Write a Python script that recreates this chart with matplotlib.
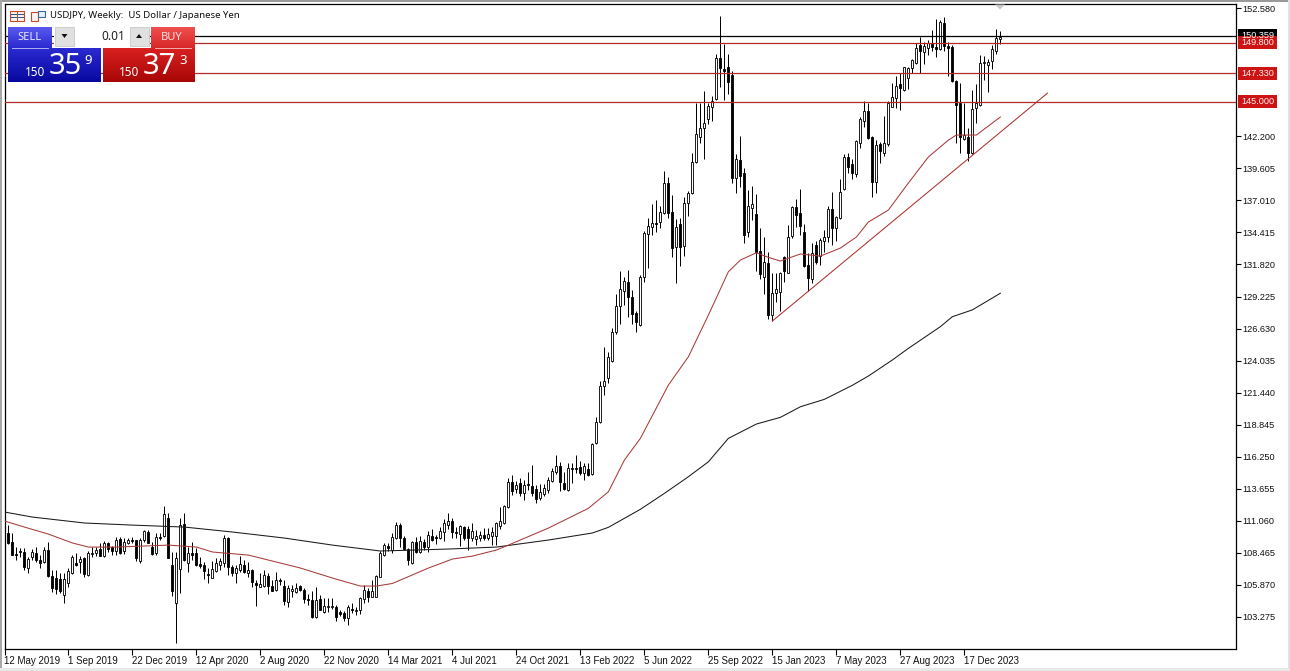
import numpy as np
import pandas as pd
import matplotlib
matplotlib.use("Agg")
import matplotlib.pyplot as plt
from matplotlib.colors import LinearSegmentedColormap
from matplotlib.patches import Rectangle, Polygon

plt.rcParams['font.family'] = ['Noto Sans', 'DejaVu Sans']
AXIS_FONT = ['Liberation Sans', 'DejaVu Sans']

opens = [
 110.09,110.04,109.31,108.37,108.61,108.50,107.26,108.15,108.47,107.88,
 107.69,108.69,106.58,106.40,106.34,105.02,106.04,106.80,107.61,107.69,
 108.02,106.67,108.39,108.42,108.77,108.23,109.28,108.91,108.64,109.55,
 108.64,109.28,109.50,109.50,107.83,109.50,110.18,108.96,108.42,109.77,
 109.85,111.26,107.47,104.42,107.12,110.77,107.66,108.42,108.42,107.56,
 107.47,106.75,106.45,107.02,107.47,107.66,109.63,107.29,106.80,107.07,
 107.47,106.80,107.07,105.99,105.72,105.77,106.58,105.80,105.45,106.26,
 105.77,104.50,105.34,105.26,105.77,105.45,104.72,104.59,103.29,104.72,
 103.69,104.05,104.05,104.10,103.64,103.56,103.16,103.88,103.75,103.78,
 104.72,105.40,104.91,104.91,106.53,108.27,108.98,108.68,109.68,110.70,
 109.63,108.76,107.60,109.36,108.55,109.30,108.89,109.81,109.71,109.63,
 110.17,110.70,111.03,110.11,109.98,110.52,110.35,109.63,109.57,109.63,
 109.90,109.68,109.84,109.81,110.62,110.84,112.16,114.18,113.61,114.10,
 113.34,114.05,113.88,113.61,112.88,113.23,113.56,114.31,114.99,115.53,
 114.10,113.56,115.31,115.31,115.39,114.96,115.23,114.85,117.34,119.04,
 122.00,122.60,124.03,126.33,128.49,129.70,130.43,129.22,127.87,126.92,
 130.84,134.27,134.89,135.16,135.24,135.97,138.45,136.10,133.27,135.10,
 133.35,136.83,137.58,140.10,142.13,142.85,143.58,144.56,145.20,148.52,
 147.63,147.79,147.17,138.80,140.29,139.20,134.48,136.42,135.88,132.91,
 130.78,131.91,127.73,129.48,129.62,132.45,131.16,134.13,136.45,135.96,
 134.48,131.78,130.62,133.40,132.51,133.75,134.07,136.29,134.75,135.56,
 137.91,140.50,139.96,139.15,141.64,143.45,144.26,142.12,138.53,141.58,
 140.83,141.55,144.61,145.28,146.44,145.96,146.90,147.71,148.12,149.60,
 149.06,149.33,149.79,149.41,149.25,151.41,149.52,149.41,146.69,144.93,
 141.96,142.18,140.83,144.47,144.74,148.12,147.98,148.33,149.14,150.06]

highs = [
 110.58,110.72,110.04,108.96,108.83,108.83,108.15,108.74,108.96,108.29,
 108.96,109.37,107.07,107.07,106.80,106.80,107.21,108.29,108.47,108.20,
 108.15,108.61,108.96,108.96,109.23,109.45,109.37,109.01,109.72,109.77,
 109.63,109.63,109.72,109.50,109.63,110.31,110.31,109.37,110.04,110.09,
 112.25,111.71,108.55,108.55,111.26,111.71,108.96,109.37,108.83,108.15,
 107.75,107.21,107.83,108.02,108.02,109.90,109.77,107.47,107.47,108.20,
 107.88,107.74,107.12,106.26,106.80,107.07,106.80,106.26,106.93,106.40,
 106.26,105.86,105.86,106.04,105.86,105.58,105.13,105.32,105.72,105.05,
 104.78,104.78,104.78,104.24,103.83,103.70,104.24,104.37,104.10,104.91,
 105.86,105.58,106.26,106.66,108.61,109.27,109.22,110.03,110.97,110.84,
 109.81,108.81,109.44,109.76,109.81,109.54,110.25,110.35,109.90,110.57,
 111.16,111.65,111.30,110.57,110.70,110.62,110.62,110.89,110.30,110.25,
 110.43,110.43,110.57,110.97,112.14,112.33,114.50,114.77,114.24,114.50,
 114.37,115.04,115.58,113.96,114.04,114.04,114.56,115.31,116.40,115.85,
 115.04,115.72,115.72,116.40,115.90,115.72,115.77,117.39,119.44,122.41,
 125.11,124.71,126.65,129.41,131.30,130.78,131.38,129.76,128.09,130.97,
 134.57,135.56,136.70,137.05,136.56,139.40,138.89,137.45,135.48,135.56,
 137.27,137.78,140.83,144.93,144.93,145.88,144.93,145.47,148.87,151.98,
 149.69,148.85,147.52,140.77,142.23,139.61,137.85,138.18,137.50,134.75,
 134.02,132.86,131.16,131.10,131.24,132.51,135.02,136.56,137.10,137.91,
 135.10,132.72,133.59,133.75,133.94,134.61,136.56,137.72,135.75,138.72,
 140.77,140.88,140.34,141.91,143.80,145.07,144.93,142.23,141.91,141.77,
 143.85,145.07,146.55,147.09,147.36,147.85,147.85,148.44,149.74,150.22,
 149.87,150.01,150.82,151.68,151.63,151.85,149.87,149.60,146.77,146.55,
 144.93,142.85,145.96,146.44,148.79,148.71,148.44,149.60,150.87,150.74]

lows = [
 109.23,109.18,108.29,107.88,108.15,107.07,106.80,107.88,107.75,107.21,
 107.61,106.53,105.31,105.12,105.18,104.42,105.72,106.75,107.39,106.80,
 106.48,106.58,108.15,108.20,108.20,108.15,108.55,108.29,108.29,108.37,
 108.37,109.18,109.28,107.83,107.66,109.37,109.23,108.29,108.29,109.50,
 109.72,108.02,104.96,101.18,105.18,107.83,106.93,107.88,107.39,107.21,
 106.31,105.99,106.40,106.93,107.07,107.34,106.66,106.58,106.04,106.93,
 106.80,106.53,105.72,104.15,105.67,105.67,105.13,105.32,105.40,105.86,
 104.24,104.05,104.91,105.18,105.32,104.37,104.24,103.16,103.16,103.78,
 103.61,103.69,103.88,102.89,103.34,102.89,102.62,103.56,103.43,103.51,
 104.42,104.50,104.91,104.91,106.48,108.19,108.60,108.41,109.54,108.95,
 108.68,107.46,107.55,108.41,108.41,108.68,108.55,109.44,109.17,109.54,
 109.44,110.35,109.63,109.63,109.00,109.49,108.68,109.44,109.09,109.44,
 109.49,109.49,109.09,109.09,110.35,110.78,112.08,113.15,113.29,113.02,
 112.70,113.56,113.02,112.53,112.75,113.02,113.29,114.23,114.86,113.50,
 113.56,113.50,114.15,114.91,114.77,114.37,114.64,114.77,117.28,118.96,
 121.25,122.25,123.95,126.19,126.98,128.54,127.54,127.01,126.38,126.87,
 130.43,131.51,134.21,134.48,134.75,135.91,135.56,132.46,130.35,131.70,
 132.51,135.75,137.53,140.07,141.64,140.34,143.18,143.48,145.15,146.17,
 145.15,145.63,138.45,137.64,138.07,133.59,134.07,135.42,131.32,130.62,
 129.43,127.38,127.27,128.81,128.08,130.43,131.10,133.94,134.88,134.21,
 131.64,129.70,130.35,131.86,131.78,132.86,133.67,133.40,133.75,135.48,
 137.85,139.26,138.72,138.93,141.23,142.93,141.96,137.26,137.64,140.02,
 140.61,141.42,144.55,144.47,144.34,145.90,146.01,147.36,148.06,147.31,
 148.06,148.79,149.14,148.66,149.20,149.14,147.09,146.63,141.64,140.88,
 141.91,140.23,140.77,143.31,144.66,146.77,145.82,147.63,148.87,149.66]

closes = [
 109.50,109.28,108.31,108.26,108.50,107.34,107.96,108.50,107.88,107.66,
 108.69,106.58,105.64,105.50,105.37,106.34,106.96,108.15,107.47,107.96,
 106.72,108.42,108.47,108.69,108.23,109.23,108.74,108.64,109.50,108.47,
 109.37,109.50,109.42,108.02,109.50,110.23,109.28,108.37,109.77,109.66,
 111.58,108.02,105.32,108.02,110.72,107.88,108.42,108.29,107.47,107.42,
 106.99,106.64,107.12,107.66,107.80,109.63,107.34,106.85,107.21,107.53,
 106.93,107.07,106.12,105.88,105.94,106.66,105.77,105.40,106.26,106.15,
 104.56,105.58,105.50,105.64,105.42,104.69,104.64,103.29,104.59,103.83,
 104.15,104.18,104.18,103.29,103.51,103.16,104.05,103.83,103.83,104.78,
 105.45,104.91,105.40,106.58,108.42,109.09,108.87,109.76,110.70,109.63,
 108.76,107.87,109.36,108.55,109.41,108.89,109.90,109.49,109.63,110.22,
 110.84,111.03,110.11,110.06,110.62,109.63,109.63,110.25,109.84,109.90,
 109.68,109.98,110.11,110.84,111.03,112.24,114.18,113.43,113.96,113.34,
 113.96,113.94,113.34,112.80,113.42,113.69,114.37,115.10,115.53,114.23,
 113.64,115.31,115.23,115.23,114.96,115.53,114.77,117.28,119.09,122.00,
 122.41,124.30,126.38,128.49,129.81,130.51,129.17,127.79,127.14,130.78,
 134.35,134.94,135.16,135.08,136.05,138.45,135.97,133.19,134.89,133.27,
 136.83,137.59,140.15,142.37,142.85,143.26,144.69,145.10,148.52,147.77,
 147.52,146.63,138.80,140.34,139.02,134.21,136.56,136.69,132.86,131.05,
 132.05,127.73,129.48,129.81,131.16,131.32,134.07,136.45,135.83,134.94,
 131.70,130.70,132.78,132.05,133.80,134.07,136.29,134.75,135.64,137.72,
 140.50,139.75,139.26,141.82,143.58,144.26,142.04,138.53,141.50,141.04,
 141.64,144.93,145.36,146.28,146.09,147.85,147.71,148.39,149.33,149.14,
 149.52,149.79,149.47,149.25,151.49,149.52,149.39,146.71,144.74,142.12,
 142.31,140.88,144.39,144.88,148.12,148.23,148.25,149.25,150.14,150.28]

ma_long_weeks = [0,7,20,32,45,57,70,82,94,111,123,136,147,151,159,165,171,176,181,188,194,199,205,212,216,222,226,234,237,242,249]
ma_long_vals = [111.76,111.35,110.87,110.70,110.54,110.14,109.65,109.08,108.60,108.76,108.92,109.49,110.06,110.52,111.98,113.27,114.62,115.83,117.73,118.89,119.43,120.29,120.89,122.03,122.78,124.08,125.02,126.78,127.59,128.14,129.49]
ma_short_weeks = [0,5,11,17,21,28,41,48,52,61,74,82,89,93,97,106,112,117,123,126,136,146,151,155,159,166,171,176,181,184,188,191,194,199,204,209,213,216,221,226,231,236,238,243,249]
ma_short_vals = [111.03,110.54,109.97,109.25,108.92,108.92,109.08,108.92,108.52,108.27,107.22,106.41,105.76,105.76,105.97,107.22,107.95,108.19,108.68,109.08,110.46,112.06,113.40,115.97,117.73,122.05,124.34,127.72,131.23,132.18,132.77,132.40,132.10,132.67,132.50,133.15,134.04,135.26,136.23,138.42,140.53,141.90,142.31,142.31,143.77]

trend_weeks = [192, 260.8]
trend_vals = [127.24, 145.71]
levels = [149.80, 147.33, 145.00]
last_price = 150.359

tick_prices = [152.58,142.2,139.605,137.01,134.415,131.82,129.225,126.63,124.035,121.44,118.845,116.25,113.655,111.06,108.465,105.87,103.275]
date_tick_weeks = list(range(0, 241, 16))
date_labels = ['12 May 2019','1 Sep 2019','22 Dec 2019','12 Apr 2020','2 Aug 2020','22 Nov 2020','14 Mar 2021','4 Jul 2021','24 Oct 2021','13 Feb 2022','5 Jun 2022','25 Sep 2022','15 Jan 2023','7 May 2023','27 Aug 2023','17 Dec 2023']

W, H = 1290, 671
fig = plt.figure(figsize=(W/100, H/100), dpi=100, facecolor='white')
L, R, T, B = 4.5, 1235.5, 4.0, 648.5
ax = fig.add_axes([L/W, (H-B)/H, (R-L)/W, (B-T)/H])
ax.set_xlim((L-4.3)/4, (R-4.3)/4)
ax.set_ylim(100.70, 152.93)
for s in ax.spines.values():
    s.set_linewidth(0.9)
    s.set_color('black')

df = pd.DataFrame({'o': opens, 'h': highs, 'l': lows, 'c': closes})
x = np.arange(len(df))
ax.vlines(x, df.l, df.h, color='black', lw=0.72, zorder=2)
up = df.c >= df.o
low_body = np.minimum(df.o, df.c)
height = np.maximum((df.c - df.o).abs(), 0.04)
ax.bar(x[up], height[up], bottom=low_body[up], width=0.5, facecolor='white', edgecolor='black', linewidth=0.62, zorder=3)
ax.bar(x[~up], height[~up], bottom=low_body[~up], width=0.5, facecolor='black', edgecolor='black', linewidth=0.62, zorder=3)

ax.plot(ma_long_weeks, ma_long_vals, color='#1a1a1a', lw=0.75, zorder=4)
ax.plot(ma_short_weeks, ma_short_vals, color='#a83a3a', lw=0.75, zorder=4)
ax.plot(trend_weeks, trend_vals, color='#b03030', lw=0.75, zorder=4)
ax.axhline(last_price, color='black', lw=0.9, zorder=5)
for lv in levels:
    ax.axhline(lv, color='#b42a2a', lw=0.9, zorder=5)

ax.yaxis.tick_right()
ax.set_yticks(tick_prices)
ax.set_yticklabels([f'{p:.3f}' for p in tick_prices], fontsize=6.6, color='#111111', family=AXIS_FONT)
ax.tick_params(axis='y', length=3.5, width=0.8, pad=1.5)
ax.set_xticks(date_tick_weeks)
ax.set_xticklabels(date_labels, fontsize=7, color='#111111', ha='left', family=AXIS_FONT)
ax.tick_params(axis='x', length=4, width=0.8, pad=1.5)

# overlay in figure pixels for the trading-terminal furniture
ov = fig.add_axes([0, 0, 1, 1], facecolor='none')
ov.set_axis_off()

def grad(x0, x1, y0, y1, c0, c1):
    cm = LinearSegmentedColormap.from_list('g', [c0, c1])
    ov.imshow(np.linspace(0, 1, 32)[:, None], extent=(x0, x1, y1, y0), cmap=cm, aspect='auto', zorder=10, interpolation='bilinear')

# window frame
for rect, col in [((0, 0, W, 2), '#9a9a9a'), ((0, 0, 2, H), '#a8a8a8'), ((W-2, 0, 2, H), '#e2e2e2'), ((0, H-3, W, 3), '#e8e8e8')]:
    ov.add_patch(Rectangle(rect[:2], rect[2], rect[3], fc=col, ec='none', zorder=9))

# SELL / BUY panel
grad(8, 52, 27, 48, '#5a5af0', '#2a2ad0')
grad(8, 101, 48, 82, '#2a2ad0', '#0808a0')
grad(151, 195, 27, 48, '#f05050', '#d82828')
grad(103, 195, 48, 82, '#d82020', '#a80606')
ov.plot([12, 48], [47.5, 47.5], color='#b0b0f0', lw=0.7, zorder=11)
ov.plot([155, 191], [47.5, 47.5], color='#f0b0b0', lw=0.7, zorder=11)
ov.text(29, 37, 'SELL', color='#e8e8ff', fontsize=8, ha='center', va='center', zorder=12)
ov.text(172, 37, 'BUY', color='#ffdcdc', fontsize=8, ha='center', va='center', zorder=12)
ov.text(35, 73, '150', color='white', fontsize=8.5, fontweight='bold', ha='center', va='center', zorder=12)
ov.text(65.5, 66, '35', color='white', fontsize=21, ha='center', va='center', zorder=12)
ov.text(88.5, 60, '9', color='white', fontsize=9.5, fontweight='bold', ha='center', va='center', zorder=12)
ov.text(129, 73, '150', color='white', fontsize=8.5, fontweight='bold', ha='center', va='center', zorder=12)
ov.text(159, 66, '37', color='white', fontsize=21, ha='center', va='center', zorder=12)
ov.text(183, 60, '3', color='white', fontsize=9.5, fontweight='bold', ha='center', va='center', zorder=12)
ov.add_patch(Rectangle((54, 27), 94, 19, fc='white', ec='none', zorder=10))
ov.add_patch(Rectangle((54.5, 27), 19, 19, fc='#e0e0e0', ec='#c8c8c8', lw=0.6, zorder=11))
ov.add_patch(Rectangle((129.5, 27), 19, 19, fc='#e0e0e0', ec='#c8c8c8', lw=0.6, zorder=11))
ov.add_patch(Polygon([[61.5, 34], [67.5, 34], [64.5, 38]], fc='#111111', ec='none', zorder=12))
ov.add_patch(Polygon([[136, 38], [142, 38], [139, 34]], fc='#111111', ec='none', zorder=12))
ov.text(125, 36, '0.01', color='#222222', fontsize=8.5, ha='right', va='center', zorder=12)

# title and icons
ov.text(50.5, 15.5, 'USDJPY, Weekly:  US Dollar / Japanese Yen', color='#111111', fontsize=6.95, ha='left', va='center', zorder=12)
ov.add_patch(Rectangle((9.5, 11), 14, 9.5, fc='#fff4ee', ec='#c8482e', lw=0.8, zorder=11))
ov.plot([16.5, 16.5], [11, 20.5], color='#c8482e', lw=0.7, zorder=12)
for yy in (14, 17):
    ov.plot([11, 15.5], [yy, yy], color='#3a4a90', lw=0.7, zorder=12)
    ov.plot([18, 22.5], [yy, yy], color='#3a4a90', lw=0.7, zorder=12)
ov.add_patch(Rectangle((30.5, 11.5), 7, 9, fc='#fff4ee', ec='#c8482e', lw=0.8, zorder=11))
ov.add_patch(Rectangle((37.5, 10.5), 7, 6.5, fc='#e8f0fa', ec='#3a6a9a', lw=0.8, zorder=11))

# marker at the top of the chart
ov.add_patch(Polygon([[995, 4.5], [1005, 4.5], [1000, 9.5]], fc='#c8c8c8', ec='none', zorder=11))

# price tags
tf = ax.transData
def tag_y(price):
    return H - tf.transform((0, price))[1]

def tag(price, col, txtcol='white'):
    y = tag_y(price)
    ov.add_patch(Rectangle((1238, y-6.5), 39, 13, fc=col, ec='none', zorder=11))
    ov.text(1257.5, y, f'{price:.3f}', color=txtcol, fontsize=6.6, family=AXIS_FONT, ha='center', va='center', zorder=12)

tag(last_price, '#000000')
for lv in levels:
    tag(lv, '#cc1414', '#ffeeee')

ov.set_xlim(0, W)
ov.set_ylim(H, 0)

fig.savefig('out.png', dpi=100)
